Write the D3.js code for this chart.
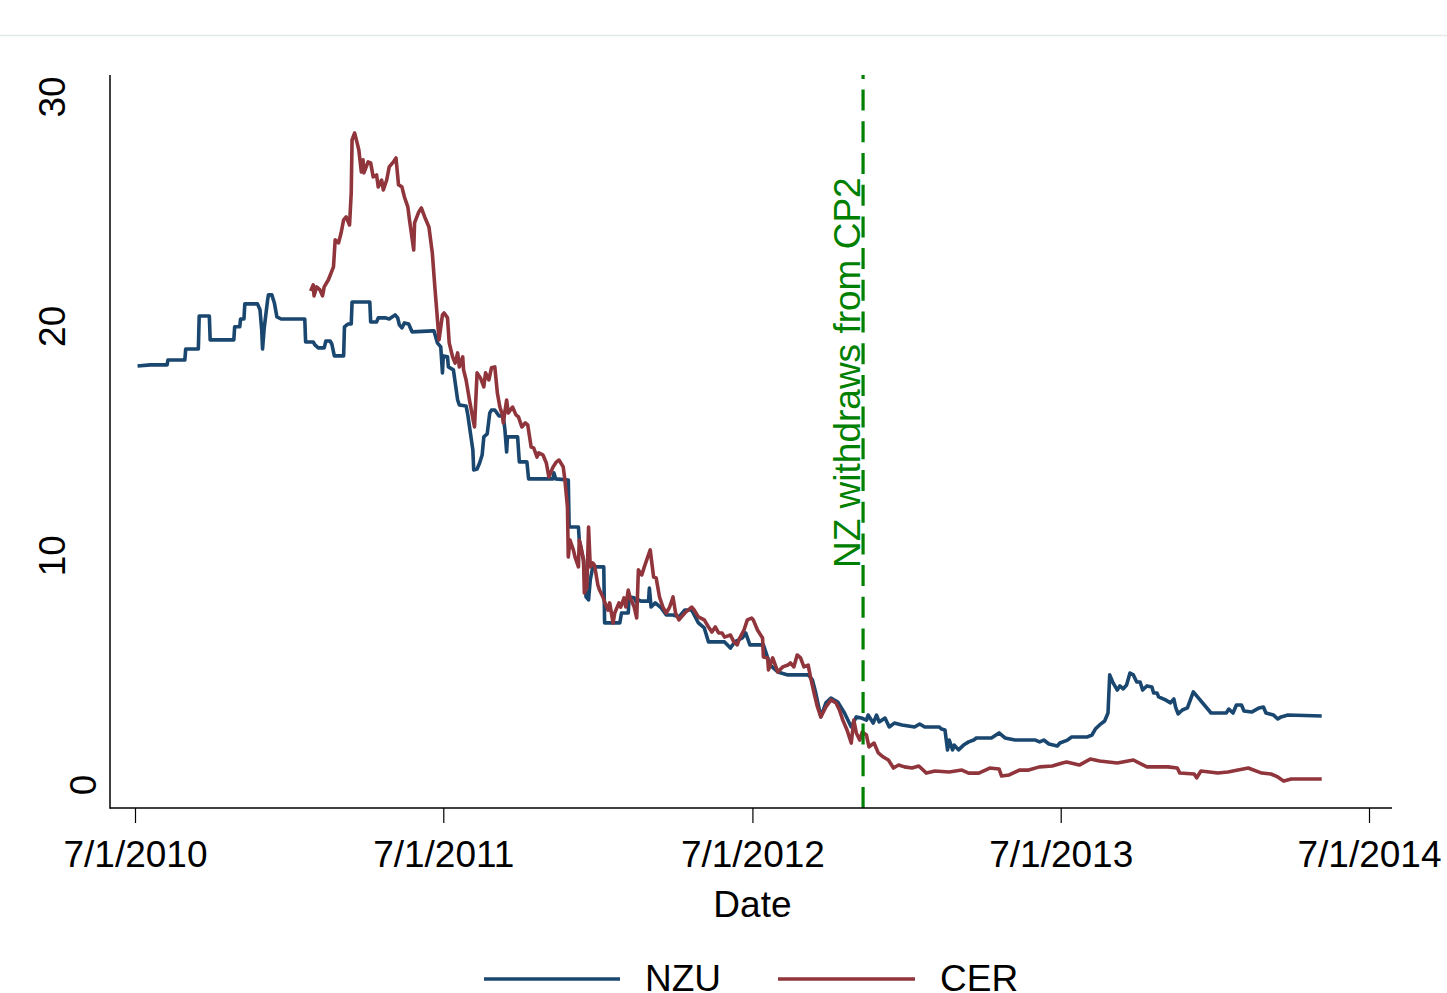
<!DOCTYPE html>
<html>
<head>
<meta charset="utf-8">
<script src="https://cdn.jsdelivr.net/npm/d3@7"></script>
<style>
  html, body { margin: 0; padding: 0; background: #fff; }
  svg { display: block; }
  text { font-family: "Liberation Sans", Arial, Helvetica, sans-serif; }
</style>
</head>
<body>
<svg id="chart" width="1447" height="993"></svg>
<script>
// ---------------- data ----------------
const nzuDates = ["2010-07-04","2010-07-19","2010-08-08","2010-08-09","2010-08-29","2010-08-30","2010-09-14","2010-09-15","2010-09-27","2010-09-28","2010-10-26","2010-10-27","2010-11-02","2010-11-03","2010-11-07","2010-11-08","2010-11-23","2010-11-26","2010-11-28","2010-11-29","2010-12-01","2010-12-05","2010-12-06","2010-12-10","2010-12-13","2010-12-16","2010-12-21","2011-01-18","2011-01-19","2011-01-28","2011-01-30","2011-02-03","2011-02-10","2011-02-12","2011-02-17","2011-02-19","2011-02-22","2011-03-05","2011-03-06","2011-03-10","2011-03-14","2011-03-15","2011-04-05","2011-04-06","2011-04-13","2011-04-15","2011-04-23","2011-04-28","2011-05-05","2011-05-08","2011-05-10","2011-05-13","2011-05-16","2011-05-21","2011-05-25","2011-06-18","2011-06-20","2011-06-24","2011-06-28","2011-06-30","2011-07-01","2011-07-06","2011-07-07","2011-07-13","2011-07-18","2011-07-20","2011-07-28","2011-07-30","2011-08-05","2011-08-06","2011-08-10","2011-08-13","2011-08-16","2011-08-18","2011-08-22","2011-08-25","2011-08-27","2011-08-31","2011-09-05","2011-09-10","2011-09-12","2011-09-14","2011-09-15","2011-09-27","2011-09-29","2011-10-08","2011-10-10","2011-11-08","2011-11-09","2011-11-11","2011-11-26","2011-11-27","2011-12-08","2011-12-09","2011-12-14","2011-12-17","2011-12-20","2011-12-22","2011-12-25","2012-01-07","2012-01-08","2012-01-26","2012-01-28","2012-02-05","2012-02-06","2012-02-12","2012-02-15","2012-02-17","2012-02-20","2012-02-29","2012-03-01","2012-03-03","2012-03-08","2012-03-15","2012-03-21","2012-03-29","2012-04-05","2012-04-12","2012-04-20","2012-04-28","2012-05-05","2012-05-10","2012-05-29","2012-06-05","2012-06-10","2012-06-19","2012-06-23","2012-06-28","2012-07-14","2012-07-18","2012-07-22","2012-07-31","2012-08-12","2012-09-05","2012-09-10","2012-09-14","2012-09-20","2012-09-26","2012-10-02","2012-10-10","2012-10-18","2012-10-26","2012-11-01","2012-11-07","2012-11-13","2012-11-15","2012-11-21","2012-11-25","2012-11-28","2012-12-05","2012-12-10","2012-12-16","2012-12-25","2013-01-09","2013-01-15","2013-01-21","2013-02-07","2013-02-10","2013-02-14","2013-02-17","2013-02-19","2013-02-23","2013-02-25","2013-03-02","2013-03-08","2013-03-14","2013-03-20","2013-03-23","2013-04-10","2013-04-19","2013-04-26","2013-05-08","2013-06-01","2013-06-06","2013-06-11","2013-06-17","2013-06-27","2013-06-30","2013-07-09","2013-07-14","2013-08-01","2013-08-07","2013-08-11","2013-08-16","2013-08-22","2013-08-26","2013-08-28","2013-09-01","2013-09-06","2013-09-09","2013-09-13","2013-09-17","2013-09-21","2013-09-25","2013-09-29","2013-10-03","2013-10-06","2013-10-11","2013-10-17","2013-10-19","2013-10-23","2013-10-25","2013-11-02","2013-11-08","2013-11-12","2013-11-14","2013-11-17","2013-11-22","2013-11-28","2013-12-05","2013-12-26","2014-01-13","2014-01-16","2014-01-21","2014-01-25","2014-01-31","2014-02-03","2014-02-12","2014-02-21","2014-02-26","2014-03-01","2014-03-10","2014-03-15","2014-03-19","2014-03-27","2014-05-06"];
const nzuValues = [18.27,18.32,18.32,18.53,18.53,19.01,19.01,20.45,20.45,19.41,19.41,19.98,19.98,20.32,20.32,20.98,20.98,20.72,19.85,19.01,19.93,21.15,21.37,21.37,21.02,20.41,20.32,20.32,19.32,19.32,19.19,19.06,19.06,19.36,19.36,19.23,18.71,18.71,19.98,20.10,20.10,21.06,21.06,20.19,20.19,20.37,20.37,20.32,20.50,20.37,20.06,19.93,20.15,20.10,19.76,19.80,19.80,19.28,19.10,17.97,18.71,18.67,18.23,18.10,16.79,16.57,16.53,16.14,14.61,13.74,13.78,14.04,14.39,15.18,15.31,16.22,16.35,16.35,16.09,16.09,15.48,14.52,15.18,15.18,14.09,14.09,13.35,13.35,13.61,13.35,13.30,11.25,11.25,10.68,9.81,8.20,8.07,8.94,9.51,9.51,7.07,7.07,7.50,7.50,8.20,8.16,7.94,8.07,8.02,8.02,8.59,7.76,7.94,7.72,7.41,7.41,7.33,7.63,7.63,7.07,6.85,6.24,6.24,5.97,6.24,6.41,6.63,6.11,6.11,5.67,5.23,4.93,4.80,4.80,4.58,4.01,2.97,3.58,3.79,3.62,3.14,2.53,2.97,2.92,2.83,3.05,2.70,3.05,2.75,2.92,2.53,2.70,2.62,2.53,2.66,2.53,2.53,2.44,2.40,1.53,1.96,1.53,1.74,1.53,1.74,1.88,1.96,2.05,2.05,2.27,2.05,1.96,1.96,1.88,1.96,1.79,1.70,1.83,1.96,2.09,2.09,2.18,2.44,2.62,2.79,3.14,4.80,4.45,4.14,4.32,4.19,4.36,4.88,4.80,4.49,4.49,4.14,4.32,4.27,4.01,4.01,3.84,3.71,3.58,3.75,3.40,3.10,3.27,3.36,4.06,3.14,3.14,3.31,3.14,3.49,3.49,3.23,3.18,3.36,3.40,3.14,3.05,2.88,2.97,3.05,3.01];

const cerDates = ["2011-01-25","2011-01-28","2011-01-29","2011-02-01","2011-02-05","2011-02-08","2011-02-10","2011-02-15","2011-02-21","2011-02-23","2011-02-27","2011-03-02","2011-03-05","2011-03-08","2011-03-12","2011-03-14","2011-03-15","2011-03-18","2011-03-21","2011-03-23","2011-03-26","2011-03-28","2011-03-29","2011-04-03","2011-04-06","2011-04-09","2011-04-13","2011-04-15","2011-04-19","2011-04-21","2011-04-25","2011-04-28","2011-05-03","2011-05-06","2011-05-09","2011-05-13","2011-05-16","2011-05-20","2011-05-22","2011-05-27","2011-05-28","2011-06-02","2011-06-05","2011-06-09","2011-06-14","2011-06-18","2011-06-21","2011-06-26","2011-06-30","2011-07-02","2011-07-06","2011-07-08","2011-07-12","2011-07-15","2011-07-18","2011-07-20","2011-07-24","2011-07-25","2011-07-28","2011-08-01","2011-08-06","2011-08-07","2011-08-10","2011-08-14","2011-08-18","2011-08-20","2011-08-24","2011-08-27","2011-08-31","2011-09-03","2011-09-06","2011-09-09","2011-09-10","2011-09-14","2011-09-16","2011-09-21","2011-09-25","2011-09-28","2011-10-02","2011-10-06","2011-10-09","2011-10-13","2011-10-16","2011-10-20","2011-10-22","2011-10-27","2011-10-31","2011-11-03","2011-11-08","2011-11-12","2011-11-15","2011-11-20","2011-11-22","2011-11-25","2011-11-26","2011-11-28","2011-12-02","2011-12-04","2011-12-08","2011-12-09","2011-12-11","2011-12-14","2011-12-15","2011-12-18","2011-12-20","2011-12-22","2011-12-25","2011-12-27","2011-12-31","2012-01-02","2012-01-06","2012-01-08","2012-01-12","2012-01-14","2012-01-18","2012-01-20","2012-01-25","2012-01-27","2012-01-31","2012-02-02","2012-02-05","2012-02-07","2012-02-12","2012-02-15","2012-02-17","2012-02-21","2012-02-24","2012-02-28","2012-03-02","2012-03-06","2012-03-09","2012-03-13","2012-03-17","2012-03-21","2012-03-25","2012-03-29","2012-04-01","2012-04-05","2012-04-08","2012-04-12","2012-04-16","2012-04-20","2012-04-23","2012-04-28","2012-05-05","2012-05-10","2012-05-14","2012-05-18","2012-05-22","2012-05-26","2012-05-29","2012-06-05","2012-06-09","2012-06-13","2012-06-16","2012-06-21","2012-06-25","2012-06-30","2012-07-02","2012-07-07","2012-07-13","2012-07-14","2012-07-19","2012-07-20","2012-07-25","2012-07-31","2012-08-06","2012-08-12","2012-08-15","2012-08-19","2012-08-23","2012-08-27","2012-08-31","2012-09-05","2012-09-08","2012-09-12","2012-09-16","2012-09-20","2012-09-26","2012-10-02","2012-10-08","2012-10-12","2012-10-16","2012-10-21","2012-10-26","2012-10-29","2012-11-01","2012-11-05","2012-11-08","2012-11-13","2012-11-16","2012-11-22","2012-11-27","2012-12-03","2012-12-09","2012-12-15","2012-12-21","2012-12-28","2013-01-06","2013-01-14","2013-01-23","2013-02-02","2013-02-19","2013-03-06","2013-03-14","2013-03-26","2013-04-08","2013-04-19","2013-04-22","2013-05-01","2013-05-13","2013-05-24","2013-06-06","2013-06-21","2013-07-03","2013-07-08","2013-07-23","2013-08-05","2013-08-16","2013-09-06","2013-09-25","2013-10-11","2013-11-05","2013-11-16","2013-11-19","2013-12-06","2013-12-09","2013-12-14","2014-01-03","2014-01-15","2014-02-08","2014-02-24","2014-03-07","2014-03-15","2014-03-22","2014-03-31","2014-05-06"];
const cerValues = [21.54,21.81,21.33,21.72,21.59,21.33,21.72,22.03,22.59,23.77,23.64,24.07,24.64,24.77,24.42,25.82,28.13,28.43,28.00,27.69,26.73,27.26,26.69,27.17,27.13,26.52,26.60,26.08,26.38,25.95,26.38,26.95,27.17,27.34,26.17,26.08,25.64,25.21,24.64,23.33,24.51,24.99,25.16,24.77,24.33,23.20,21.72,19.41,20.50,20.58,20.37,19.28,18.67,18.40,18.84,18.23,18.67,18.10,17.66,16.79,15.79,15.61,17.97,17.75,17.36,17.97,17.66,18.19,18.23,17.10,16.48,16.14,15.79,16.79,16.22,16.48,16.14,16.05,15.61,15.79,15.70,14.74,14.70,14.30,14.48,14.39,14.04,13.43,13.87,14.09,14.17,13.87,13.30,12.12,9.94,10.68,10.25,9.94,9.51,10.68,10.38,9.81,8.37,8.64,11.25,9.51,9.68,9.59,8.72,8.50,8.20,7.98,7.63,7.94,7.07,7.50,7.94,7.76,8.16,7.76,8.50,8.20,7.76,7.28,9.38,9.16,9.51,9.94,10.25,9.07,9.03,8.20,7.76,7.50,7.76,8.20,7.50,7.20,7.33,7.50,7.63,7.76,7.63,7.33,7.20,6.89,6.67,6.89,6.63,6.63,6.45,6.54,6.24,6.11,6.41,6.76,7.20,7.28,7.20,6.76,6.41,5.58,5.54,5.02,5.54,4.93,5.15,5.23,5.32,5.15,5.67,5.54,5.15,5.23,4.67,4.01,3.40,2.97,3.40,3.71,3.58,3.27,2.83,2.40,1.83,2.83,2.27,1.96,2.31,2.18,1.66,1.83,1.40,1.22,1.09,0.74,0.87,0.79,0.74,0.83,0.52,0.61,0.57,0.65,0.52,0.52,0.74,0.70,0.39,0.44,0.65,0.65,0.79,0.83,0.96,1.00,0.87,1.13,1.05,0.96,1.09,0.79,0.79,0.74,0.52,0.48,0.31,0.61,0.52,0.57,0.74,0.52,0.48,0.35,0.17,0.26,0.26];

const seriesNames = ["NZU", "CER"];
const xTickDates = ["2010-07-01","2011-07-01","2012-07-01","2013-07-01","2014-07-01"];
const yTickValues = [0, 10, 20, 30];
const eventDate = "2012-11-09";
const eventLabel = "NZ withdraws from CP2";
const xTitle = "Date";

// ---------------- chart ----------------
const parse = d3.timeParse("%Y-%m-%d");
const fmt = d3.timeFormat("%-m/%-d/%Y");
const colors = { NZU: "#1a476f", CER: "#90353b" };

const svg = d3.select("#chart");
const plot = { left: 110, right: 1392, top: 75, bottom: 808 };

const x = d3.scaleTime()
  .domain([parse("2010-07-01"), parse("2014-07-01")])
  .range([135, 1369]);
const y = d3.scaleLinear().domain([0, 30]).range([785, 97]);

// faint top rule
svg.append("line").attr("x1", 0).attr("x2", 1447).attr("y1", 35.5).attr("y2", 35.5)
  .attr("stroke", "#e4e9e9").attr("stroke-width", 1.5);

const series = seriesNames.map(name => {
  const ds = name === "NZU" ? nzuDates : cerDates;
  const vs = name === "NZU" ? nzuValues : cerValues;
  return { name, pts: ds.map((d, i) => ({ date: parse(d), value: vs[i] })) };
});

const line = d3.line().x(d => x(d.date)).y(d => y(d.value));

series.forEach(s => {
  svg.append("path")
    .datum(s.pts)
    .attr("fill", "none")
    .attr("stroke", colors[s.name])
    .attr("stroke-width", 3.6)
    .attr("stroke-linejoin", "round")
    .attr("d", line);
});

// event line
const ex = x(parse(eventDate));
svg.append("line")
  .attr("x1", ex).attr("x2", ex)
  .attr("y1", plot.bottom).attr("y2", plot.top)
  .attr("stroke", "#008000").attr("stroke-width", 3.2)
  .attr("stroke-dasharray", "21,10.7");

svg.append("text")
  .attr("transform", `translate(${ex - 3},568) rotate(-90)`)
  .attr("text-anchor", "start")
  .attr("fill", "#008000")
  .attr("font-size", 37)
  .text(eventLabel);

// axes lines
svg.append("line").attr("x1", plot.left).attr("x2", plot.left)
  .attr("y1", plot.top).attr("y2", plot.bottom + 0.75)
  .attr("stroke", "#000").attr("stroke-width", 1.5);
svg.append("line").attr("x1", plot.left).attr("x2", plot.right)
  .attr("y1", plot.bottom).attr("y2", plot.bottom)
  .attr("stroke", "#000").attr("stroke-width", 1.5);

// x axis
const xAxis = d3.axisBottom(x)
  .tickValues(xTickDates.map(parse))
  .tickFormat(fmt)
  .tickSize(15)
  .tickSizeOuter(0);
const gx = svg.append("g").attr("transform", `translate(0,${plot.bottom})`).call(xAxis);
gx.select(".domain").remove();
gx.selectAll(".tick line").attr("stroke", "#000").attr("stroke-width", 1.2);
gx.selectAll(".tick text")
  .attr("y", 58.5).attr("dy", 0)
  .attr("fill", "#000")
  .attr("font-size", 37)
  .attr("font-family", "'Liberation Sans', Arial, sans-serif");

svg.append("text")
  .attr("x", x(parse("2012-07-01"))).attr("y", 917)
  .attr("text-anchor", "middle").attr("font-size", 37).attr("fill", "#000")
  .text(xTitle);

// y axis labels (rotated)
const gy = svg.append("g");
gy.selectAll("text").data(yTickValues).join("text")
  .attr("transform", d => `translate(${String(d).length === 1 ? 96 : 65},${y(d)}) rotate(-90)`)
  .attr("text-anchor", "middle")
  .attr("font-size", 37)
  .attr("fill", "#000")
  .text(d => d);

// legend
const legendItems = [
  { name: "NZU", x1: 484, x2: 620, tx: 645 },
  { name: "CER", x1: 778, x2: 915, tx: 940 }
];
const lg = svg.append("g");
legendItems.forEach(it => {
  lg.append("line").attr("x1", it.x1).attr("x2", it.x2).attr("y1", 979).attr("y2", 979)
    .attr("stroke", colors[it.name]).attr("stroke-width", 3.6);
  lg.append("text").attr("x", it.tx).attr("y", 991).attr("font-size", 37).attr("fill", "#000")
    .text(it.name);
});
</script>
</body>
</html>
